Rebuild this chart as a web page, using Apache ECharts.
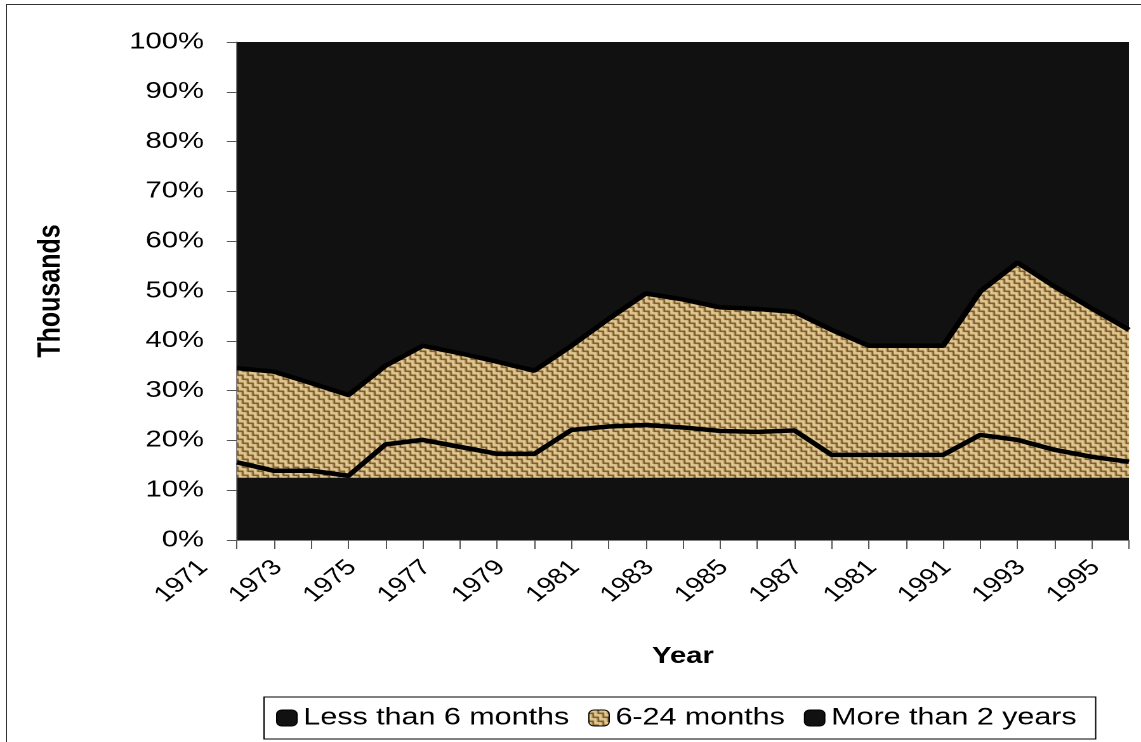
<!DOCTYPE html>
<html>
<head>
<meta charset="utf-8">
<script src="https://cdn.jsdelivr.net/npm/echarts@6/dist/echarts.min.js"></script>
<style>
  html, body { margin: 0; padding: 0; background: #fff; overflow: hidden; width: 1141px; height: 742px; }
  #frame { position: absolute; left: 6px; top: 4px; width: 1300px; height: 900px; border: 1px solid #333; }
  #wrap { position: absolute; left: 0; top: 0; width: 899px; height: 742px; transform: scaleX(1.269188); transform-origin: 0 0; }
  #chart { width: 899px; height: 742px; }
</style>
</head>
<body>
<div id="frame"></div>
<div id="wrap"><div id="chart"></div></div>
<script>
// ---- data (shares in %) ----
const years = ['1972','1973','1974','1975','1976','1977','1978','1979','1980','1981','1982','1983','1984',
               '1985','1986','1987','1988','1989','1990','1991','1992','1993','1994','1995','1996'];
// tick labels as printed on the original axis (note the original's "1981" in place of 1989)
const xTickLabels = ['1971','1972','1973','1974','1975','1976','1977','1978','1979','1980','1981','1982','1983',
                     '1984','1985','1986','1987','1988','1981','1990','1991','1992','1993','1994','1995','1996'];
const lessThan6 = [15.6,13.9,13.9,12.9,19.2,20.1,18.7,17.3,17.3,22.1,22.8,23.1,22.6,
                   21.9,21.7,22.0,17.1,17.1,17.1,17.1,21.1,20.1,18.1,16.7,15.7];
const sixTo24 = [18.9,19.9,17.6,16.2,15.8,18.9,18.8,18.5,16.7,16.9,21.6,26.4,25.7,
                 24.8,24.7,23.8,25.1,21.9,21.9,21.9,28.8,35.6,32.8,29.8,26.5];
const moreThan2 = [65.5,66.2,68.5,70.9,65.0,61.0,62.5,64.2,66.0,61.0,55.6,50.5,51.7,
                   53.3,53.6,54.2,57.8,61.0,61.0,61.0,50.1,44.3,49.1,53.5,57.8];
const seriesNames = ['Less than 6 months', '6-24 months', 'More than 2 years'];
const fillFloor = 12.5; // level where the textured band starts in the original picture

// cumulative top of the 6-24 months band
const upperEdge = lessThan6.map((v, i) => +(v + sixTo24[i]).toFixed(2));

// burlap-like texture tile
function makeBurlap() {
  const n = 8;
  const c = document.createElement('canvas');
  c.width = n; c.height = n;
  const g = c.getContext('2d');
  const img = g.createImageData(n, n);
  const L = [226, 202, 146], M = [184, 150, 94], D = [104, 74, 38];
  for (let y = 0; y < n; y++) {
    for (let x = 0; x < n; x++) {
      const block = ((x >> 2) + (y >> 2)) & 1;
      const k = block ? (x % 4) : (y % 4);
      const col = k < 2 ? L : (k === 2 ? M : D);
      const p = (y * n + x) * 4;
      img.data[p] = col[0]; img.data[p + 1] = col[1]; img.data[p + 2] = col[2]; img.data[p + 3] = 255;
    }
  }
  g.putImageData(img, 0, 0);
  return { image: c, repeat: 'repeat' };
}
const burlap = makeBurlap();
const FONT = "'Liberation Sans', Arial, sans-serif";
const BLACK = '#111111';

const chart = echarts.init(document.getElementById('chart'), null, { renderer: 'canvas', devicePixelRatio: 2 });
chart.setOption({
  animation: false,
  textStyle: { fontFamily: FONT, color: '#000' },
  grid: [
    { left: 186.7, right: 9.5, top: 42, bottom: 202, show: true, backgroundColor: BLACK, borderWidth: 0, outerBoundsMode: 'none' },
    { left: 160.4, right: 6.5, top: 42, bottom: 202, outerBoundsMode: 'none' }
  ],
  xAxis: [
    {
      type: 'category', gridIndex: 0, data: years, boundaryGap: false,
      axisLine: { show: true, lineStyle: { color: '#808080', width: 1 } },
      axisTick: { show: true, interval: 0, length: 9, lineStyle: { color: '#555' } },
      axisLabel: { show: false },
      splitLine: { show: false },
      name: 'Year', nameLocation: 'middle', nameGap: 105,
      nameTextStyle: { fontFamily: FONT, fontWeight: 'bold', fontSize: 23, color: '#000' }
    },
    {
      type: 'category', gridIndex: 1, data: xTickLabels, boundaryGap: false,
      axisLine: { show: false }, axisTick: { show: false }, splitLine: { show: false },
      axisLabel: { interval: 1, rotate: 45, fontSize: 22, margin: 24, color: '#000', fontFamily: FONT }
    }
  ],
  yAxis: [
    {
      type: 'value', gridIndex: 0, min: 0, max: 100, interval: 10,
      axisLine: { show: true, lineStyle: { color: '#808080', width: 1 } },
      axisTick: { show: true, length: 8, lineStyle: { color: '#555' } },
      splitLine: { show: false },
      axisLabel: { formatter: '{value}%', fontSize: 23, margin: 26, color: '#000', fontFamily: FONT },
      name: 'Thousands', nameLocation: 'middle', nameGap: 134,
      nameTextStyle: { fontFamily: FONT, fontWeight: 'bold', fontSize: 25, color: '#000' }
    },
    { type: 'value', gridIndex: 1, min: 0, max: 100, show: false }
  ],
  legend: {
    left: 208, top: 697, orient: 'horizontal',
    itemWidth: 16, itemHeight: 16, itemGap: 15,
    padding: [9, 15, 9, 9.5],
    borderColor: '#000', borderWidth: 1, backgroundColor: '#fff',
    selectedMode: false,
    textStyle: { fontSize: 24, color: '#000', fontFamily: FONT },
    data: [
      { name: seriesNames[0], icon: 'roundRect', itemStyle: { color: BLACK, borderColor: '#000', borderWidth: 1 } },
      { name: seriesNames[1], icon: 'roundRect', itemStyle: { color: burlap, borderColor: '#000', borderWidth: 1 } },
      { name: seriesNames[2], icon: 'roundRect', itemStyle: { color: BLACK, borderColor: '#000', borderWidth: 1 } }
    ]
  },
  series: [
    {
      name: seriesNames[1], type: 'line', xAxisIndex: 0, yAxisIndex: 0,
      data: upperEdge, symbol: 'none', showSymbol: false, z: 2,
      lineStyle: { color: '#000', width: 4.5 },
      itemStyle: { color: burlap },
      areaStyle: { color: burlap, opacity: 1, origin: fillFloor }
    },
    {
      name: 'upper-base', type: 'line', stack: 'upper', xAxisIndex: 0, yAxisIndex: 0,
      data: upperEdge, symbol: 'none', showSymbol: false, silent: true, z: 1,
      lineStyle: { opacity: 0, width: 0 }
    },
    {
      name: seriesNames[2], type: 'line', stack: 'upper', xAxisIndex: 0, yAxisIndex: 0,
      data: moreThan2, symbol: 'none', showSymbol: false, z: 1,
      lineStyle: { width: 0, opacity: 0 },
      itemStyle: { color: BLACK },
      areaStyle: { color: BLACK, opacity: 1 }
    },
    {
      name: seriesNames[0], type: 'line', xAxisIndex: 0, yAxisIndex: 0,
      data: lessThan6, symbol: 'none', showSymbol: false, z: 3,
      lineStyle: { color: '#000', width: 4.5 },
      itemStyle: { color: BLACK }
    }
  ]
});
</script>
</body>
</html>
